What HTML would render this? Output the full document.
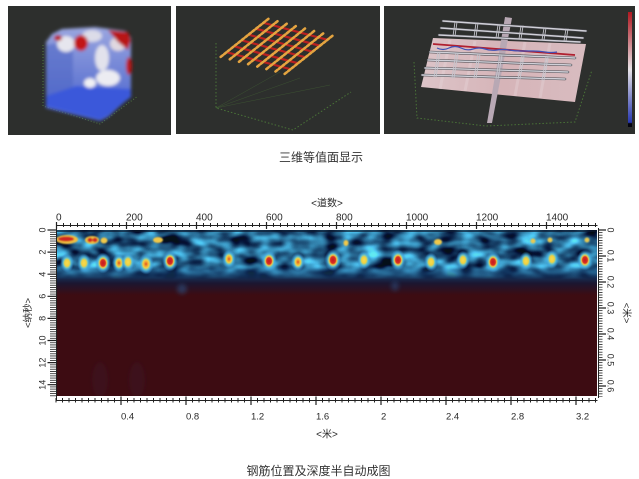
<!DOCTYPE html>
<html><head><meta charset="utf-8">
<style>
html,body{margin:0;padding:0;background:#fff;}
body{width:639px;height:479px;overflow:hidden;}
svg{display:block;}
text{font-family:"Liberation Sans","Noto Sans CJK SC",sans-serif;}
</style></head><body>
<svg width="639" height="479" viewBox="0 0 639 479" xmlns="http://www.w3.org/2000/svg">
<defs>
 <filter id="soft" x="-10%" y="-10%" width="120%" height="120%"><feGaussianBlur stdDeviation="0.9"/></filter>
 <filter id="soft2" x="-10%" y="-10%" width="120%" height="120%"><feGaussianBlur stdDeviation="1.6"/></filter>
 <filter id="blur2" x="-50%" y="-50%" width="200%" height="200%"><feGaussianBlur stdDeviation="2"/></filter>
 <filter id="tex" filterUnits="userSpaceOnUse" x="57" y="230" width="540" height="62" color-interpolation-filters="sRGB">
  <feTurbulence type="fractalNoise" baseFrequency="0.05 0.085" numOctaves="2" seed="11" result="n"/>
  <feColorMatrix in="n" type="matrix" values="0.75 0 0 0 -0.22  1.8 0 0 0 -0.5  1.9 0 0 0 -0.4  0 0 0 0 1"/>
 </filter>
 <linearGradient id="bandG" x1="0" y1="230" x2="0" y2="295" gradientUnits="userSpaceOnUse">
  <stop offset="0" stop-color="#0e2440"/>
  <stop offset="0.06" stop-color="#2470ac"/>
  <stop offset="0.58" stop-color="#2066a0"/>
  <stop offset="0.7" stop-color="#143660"/>
  <stop offset="0.82" stop-color="#1c1630"/>
  <stop offset="1" stop-color="#3d0c12"/>
 </linearGradient>
 <linearGradient id="fadeG" x1="0" y1="230" x2="0" y2="292" gradientUnits="userSpaceOnUse">
  <stop offset="0" stop-color="#fff"/>
  <stop offset="0.58" stop-color="#fff"/>
  <stop offset="0.8" stop-color="#000"/>
  <stop offset="1" stop-color="#000"/>
 </linearGradient>
 <mask id="fadeM" maskUnits="userSpaceOnUse" x="57" y="230" width="540" height="62">
  <rect x="57" y="230" width="540" height="62" fill="url(#fadeG)"/>
 </mask>
 <clipPath id="pc"><rect x="57" y="230" width="540" height="166"/></clipPath>
 <radialGradient id="gR">
  <stop offset="0" stop-color="#c41820"/>
  <stop offset="0.3" stop-color="#d83022"/>
  <stop offset="0.44" stop-color="#f0c440"/>
  <stop offset="0.56" stop-color="#80c8b0"/>
  <stop offset="0.7" stop-color="#48b0e0" stop-opacity="0.75"/>
  <stop offset="1" stop-color="#3a90d0" stop-opacity="0"/>
 </radialGradient>
 <radialGradient id="gO">
  <stop offset="0" stop-color="#e05020"/>
  <stop offset="0.2" stop-color="#f0a030"/>
  <stop offset="0.38" stop-color="#f2d044"/>
  <stop offset="0.52" stop-color="#80c8b0"/>
  <stop offset="0.68" stop-color="#48b0e0" stop-opacity="0.75"/>
  <stop offset="1" stop-color="#3a90d0" stop-opacity="0"/>
 </radialGradient>
 <radialGradient id="gY">
  <stop offset="0" stop-color="#f4dc50"/>
  <stop offset="0.34" stop-color="#f0d040"/>
  <stop offset="0.5" stop-color="#80c8b0"/>
  <stop offset="0.68" stop-color="#48b0e0" stop-opacity="0.75"/>
  <stop offset="1" stop-color="#3a90d0" stop-opacity="0"/>
 </radialGradient>
 <linearGradient id="cbar" x1="0" y1="0" x2="0" y2="1">
  <stop offset="0" stop-color="#b01820"/>
  <stop offset="0.5" stop-color="#e8e4e8"/>
  <stop offset="0.96" stop-color="#2838b0"/>
  <stop offset="0.97" stop-color="#050510"/>
  <stop offset="1" stop-color="#050510"/>
 </linearGradient>
 <linearGradient id="planeG" x1="0" y1="0" x2="1" y2="0">
  <stop offset="0" stop-color="#dcc4c8"/>
  <stop offset="0.5" stop-color="#d6b4b8"/>
  <stop offset="1" stop-color="#d8bcc0"/>
 </linearGradient>
 <linearGradient id="cubeG" x1="0" y1="0" x2="0" y2="1">
  <stop offset="0" stop-color="#9aa6e0"/>
  <stop offset="0.55" stop-color="#6a7ed4"/>
  <stop offset="1" stop-color="#4660d4"/>
 </linearGradient>
 <pattern id="ptop" patternUnits="userSpaceOnUse" x="56" y="0" width="7" height="10"><rect x="0" y="0" width="1" height="10" fill="#222"/></pattern>
 <pattern id="pbot" patternUnits="userSpaceOnUse" x="55.5" y="0" width="6.5" height="10"><rect x="0" y="0" width="1" height="10" fill="#222"/></pattern>
 <pattern id="pleft" patternUnits="userSpaceOnUse" x="0" y="229.6" width="10" height="2.21"><rect x="0" y="0" width="10" height="0.8" fill="#222"/></pattern>
 <pattern id="pright" patternUnits="userSpaceOnUse" x="0" y="229.6" width="10" height="2.6"><rect x="0" y="0" width="10" height="0.8" fill="#222"/></pattern>
</defs>

<rect width="639" height="479" fill="#fff"/>

<!-- Panel 1 -->
<rect x="8" y="6" width="163" height="129" fill="#2d2f2d"/>
<g stroke="#5a8a40" stroke-width="1" stroke-dasharray="1 2" fill="none" opacity=".8">
 <path d="M43 45 V106 L100 124 L138 96"/>
</g>
<g filter="url(#soft2)">
 <polygon points="46,42 52,34 62,29 95,27 125,31 131,38 131,96 108,117 100,121 46,108" fill="url(#cubeG)"/>
 <polygon points="46,45 73,40 73,92 46,100" fill="#5068c4" opacity=".6"/>
 <polygon points="46,96 76,86 131,89 131,97 108,115 100,119 46,106" fill="#3a58da"/>
 <ellipse cx="66" cy="44" rx="9" ry="8" fill="#e6e6ee"/>
 <ellipse cx="92" cy="36" rx="10" ry="6" fill="#dcdce8"/>
 <ellipse cx="102" cy="58" rx="7" ry="13" fill="#e2e2ec"/>
 <ellipse cx="108" cy="78" rx="12" ry="8" fill="#ececf2"/>
 <ellipse cx="90" cy="83" rx="6" ry="5" fill="#f0f0f4"/>
 <ellipse cx="118" cy="44" rx="8" ry="7" fill="#e0d8e0"/>
 <ellipse cx="81" cy="43" rx="7" ry="8" fill="#c21818"/>
 <ellipse cx="58" cy="38" rx="4" ry="3" fill="#b81818"/>
 <path d="M108 30 L128 32 L131 40 L128 50 L118 42 Z" fill="#b81818"/>
 <ellipse cx="129" cy="66" rx="3" ry="9" fill="#b81818"/>
</g>

<!-- Panel 2 -->
<rect x="176" y="6" width="204" height="128" fill="#2d2f2d"/>
<g stroke="#4f7f3a" stroke-width="1" fill="none" opacity=".85">
 <path d="M216 43 V108 L293 130 L351 92" stroke-dasharray="1.5 2"/>
 <path d="M216 108 L300 78 M216 108 L330 85 M216 108 L280 72" stroke-width=".5" opacity=".5"/>
</g>
<g stroke="#b82020" stroke-width="2.2" stroke-linecap="round">
 <line x1="226.5" y1="52.2" x2="290.5" y2="69.2"/>
 <line x1="234" y1="46.25" x2="298" y2="63.25"/>
 <line x1="241.5" y1="40.3" x2="305.5" y2="57.3"/>
 <line x1="248.5" y1="34.7" x2="312.5" y2="51.7"/>
 <line x1="256" y1="28.75" x2="320" y2="45.75"/>
 <line x1="263.5" y1="22.8" x2="327.5" y2="39.8"/>
</g>
<g stroke="#e4a440" stroke-width="2.6" stroke-linecap="round" stroke-dasharray="2.5 2">
 <line x1="220.7" y1="56.9" x2="269.3" y2="18.1"/>
 <line x1="229.8" y1="59.3" x2="278.4" y2="20.5"/>
 <line x1="239.0" y1="61.8" x2="287.6" y2="23.0"/>
 <line x1="248.1" y1="64.2" x2="296.7" y2="25.4"/>
 <line x1="257.3" y1="66.6" x2="305.9" y2="27.8"/>
 <line x1="266.4" y1="69.1" x2="315.0" y2="30.3"/>
 <line x1="275.5" y1="71.5" x2="324.1" y2="32.7"/>
 <line x1="284.7" y1="73.9" x2="333.3" y2="35.1"/>
</g>

<!-- Panel 3 -->
<rect x="384" y="6" width="251" height="128" fill="#2d2f2d"/>
<g stroke="#4f7f3a" stroke-width="1" fill="none" stroke-dasharray="1.5 2" opacity=".85">
 <path d="M414 62 L417 118 L486 126 L575 122 L592 70"/>
</g>
<polygon points="433,38 586,44 575,102 421,87" fill="url(#planeG)"/>
<g stroke="#e8d8dc" stroke-width="3" opacity=".35">
 <line x1="450" y1="40" x2="440" y2="89"/><line x1="475" y1="41" x2="465" y2="91"/>
 <line x1="525" y1="42" x2="515" y2="96"/><line x1="550" y1="43" x2="540" y2="98"/>
</g>
<polygon points="505,17 512,18 492,123 487,123" fill="#b8a8b4"/>
<g stroke-linecap="round">
 <g stroke="#4a4a50" stroke-width="2.6">
  <line x1="443" y1="21" x2="586" y2="31"/><line x1="441" y1="28" x2="583" y2="38"/><line x1="439" y1="35" x2="580" y2="42"/>
 </g>
 <g stroke="#d0d0d8" stroke-width="1.4">
  <line x1="443" y1="21" x2="586" y2="31"/><line x1="441" y1="28" x2="583" y2="38"/><line x1="439" y1="35" x2="580" y2="42"/>
 </g>
 <g stroke="#c0c0c8" stroke-width="0.9">
  <path d="M455 22 L453 36 M457 22 L455 36 M476 23 L474 37 M478 23 L476 37 M498 25 L496 38 M500 25 L498 38 M521 26 L519 39 M523 26 L521 39 M544 28 L542 40 M546 28 L544 40 M566 29 L564 41 M568 29 L566 41"/>
 </g>
</g>
<line x1="433" y1="44" x2="575" y2="55" stroke="#b02030" stroke-width="1.8"/>
<path d="M437 48 q6 3 12 0 t12 0 t12 1 t12 0 t12 1 t12 0 t12 1 t12 0 t12 1 t12 0" stroke="#4050b8" stroke-width="1.2" fill="none"/>
<g stroke-linecap="round">
 <g stroke="#4a4a50" stroke-width="2.6">
  <line x1="430" y1="52" x2="575" y2="58"/><line x1="428" y1="60" x2="571" y2="65"/><line x1="425" y1="68" x2="568" y2="72"/><line x1="422" y1="75" x2="565" y2="79"/>
 </g>
 <g stroke="#d0d0d8" stroke-width="1.4">
  <line x1="430" y1="52" x2="575" y2="58"/><line x1="428" y1="60" x2="571" y2="65"/><line x1="425" y1="68" x2="568" y2="72"/><line x1="422" y1="75" x2="565" y2="79"/>
 </g>
 <g stroke="#c4c4cc" stroke-width="0.9">
  <path d="M438 52 L434 77 M440 52 L436 77 M456 53 L452 78 M458 53 L454 78 M478 54 L474 78 M480 54 L476 78 M500 55 L496 79 M502 55 L498 79 M522 56 L518 79 M524 56 L520 79 M546 57 L542 80 M548 57 L544 80"/>
 </g>
</g>
<rect x="628" y="12" width="4" height="115" fill="url(#cbar)"/>

<text x="321" y="161.5" font-size="12" fill="#333" text-anchor="middle">三维等值面显示</text>

<!-- Heatmap -->
<g clip-path="url(#pc)">
 <rect x="57" y="230" width="540" height="166" fill="#3d0c12"/>
 <rect x="57" y="230" width="540" height="65" fill="url(#bandG)"/>
 <rect x="57" y="230" width="540" height="62" filter="url(#tex)" mask="url(#fadeM)" opacity="0.85"/>
 <rect x="57" y="230" width="540" height="2" fill="#0c1a30" opacity=".7"/>
 <g filter="url(#blur2)">
  <ellipse cx="182" cy="289" rx="5" ry="5" fill="#2a5a90" opacity=".5"/>
  <ellipse cx="395" cy="286" rx="4" ry="5" fill="#2a4f80" opacity=".5"/>
  <ellipse cx="100" cy="380" rx="8" ry="18" fill="#3a2040" opacity=".18"/>
  <ellipse cx="137" cy="380" rx="8" ry="18" fill="#3a2040" opacity=".18"/>
 </g>
 <g filter="url(#soft)">
  <ellipse cx="67" cy="239.5" rx="11" ry="4.5" fill="#f0c040"/>
  <ellipse cx="66" cy="239" rx="8" ry="2.5" fill="#d02820"/>
  <ellipse cx="92" cy="240" rx="7" ry="4" fill="#f0c040"/>
  <ellipse cx="90" cy="240" rx="2.5" ry="2.2" fill="#d02820"/>
  <ellipse cx="95" cy="240" rx="2.5" ry="2.2" fill="#d02820"/>
  <ellipse cx="104" cy="240.5" rx="3.5" ry="3" fill="#f0c848"/>
  <ellipse cx="158" cy="240" rx="5" ry="3" fill="#f0c848"/>
  <ellipse cx="346" cy="243" rx="2.5" ry="3" fill="#f0c848"/>
  <ellipse cx="438" cy="242" rx="4" ry="3" fill="#f0c848"/>
  <ellipse cx="533" cy="241" rx="2.5" ry="2.5" fill="#e8c850"/>
  <ellipse cx="550" cy="240" rx="2.5" ry="2.5" fill="#e8c850"/>
  <ellipse cx="587" cy="240" rx="2.5" ry="2.5" fill="#e8c850"/>
 </g>
 <ellipse cx="67" cy="263" rx="7" ry="9.5" fill="url(#gY)"/>
 <ellipse cx="84" cy="263" rx="7" ry="9.5" fill="url(#gY)"/>
 <ellipse cx="103" cy="263" rx="8" ry="10.5" fill="url(#gR)"/>
 <ellipse cx="119" cy="263" rx="7" ry="9.5" fill="url(#gO)"/>
 <ellipse cx="128" cy="262" rx="7" ry="9.5" fill="url(#gY)"/>
 <ellipse cx="146" cy="264" rx="8" ry="10.5" fill="url(#gO)"/>
 <ellipse cx="170" cy="261" rx="8" ry="10.5" fill="url(#gR)"/>
 <ellipse cx="229" cy="259" rx="7" ry="9.5" fill="url(#gO)"/>
 <ellipse cx="269" cy="261" rx="8" ry="10.5" fill="url(#gR)"/>
 <ellipse cx="298" cy="262" rx="7" ry="9.5" fill="url(#gO)"/>
 <ellipse cx="333" cy="260" rx="8.5" ry="11" fill="url(#gR)"/>
 <ellipse cx="364" cy="260" rx="7" ry="9.5" fill="url(#gY)"/>
 <ellipse cx="398" cy="260" rx="8" ry="10.5" fill="url(#gR)"/>
 <ellipse cx="431" cy="262" rx="7" ry="9.5" fill="url(#gY)"/>
 <ellipse cx="463" cy="260" rx="7" ry="9.5" fill="url(#gY)"/>
 <ellipse cx="493" cy="262" rx="8" ry="10.5" fill="url(#gR)"/>
 <ellipse cx="526" cy="261" rx="7" ry="9.5" fill="url(#gY)"/>
 <ellipse cx="552" cy="259" rx="7" ry="9.5" fill="url(#gY)"/>
 <ellipse cx="585" cy="260" rx="8" ry="10.5" fill="url(#gR)"/>
</g>

<g stroke="#222" stroke-width="1" fill="none">
 <path d="M56.5 230 V225.5 H597.5"/>
 <path d="M56.5 225 V400.5 H597.5"/>
 <path d="M598.5 228 V398"/>
</g>
<rect x="56" y="223" width="541" height="4" fill="url(#ptop)"/>
<rect x="55.5" y="398" width="542" height="4.5" fill="url(#pbot)"/>
<rect x="50" y="229.6" width="6.5" height="167" fill="url(#pleft)"/>
<rect x="598.5" y="229.6" width="4" height="167" fill="url(#pright)"/>
<g stroke="#222" stroke-width="1.2">
 <path d="M56.5 222V229 M126.5 222V229 M196.5 222V229 M266.5 222V229 M336.5 222V229 M406.5 222V229 M476.5 222V229 M546.5 222V229"/>
 <path d="M121 396.5V405 M186 396.5V405 M251 396.5V405 M316 396.5V405 M381 396.5V405 M446 396.5V405 M511 396.5V405 M576 396.5V405"/>
 <path d="M47.5 230H57 M47.5 252.1H57 M47.5 274.2H57 M47.5 296.3H57 M47.5 318.4H57 M47.5 340.5H57 M47.5 362.6H57 M47.5 384.7H57"/>
 <path d="M598 230H606 M598 256H606 M598 282H606 M598 308H606 M598 334H606 M598 360H606 M598 386H606"/>
</g>

<g font-size="10" fill="#2a2a2a">
 <text x="56" y="220.5">0</text>
 <text x="126" y="220.5">200</text>
 <text x="196" y="220.5">400</text>
 <text x="266" y="220.5">600</text>
 <text x="336" y="220.5">800</text>
 <text x="406" y="220.5">1000</text>
 <text x="476" y="220.5">1200</text>
 <text x="546" y="220.5">1400</text>
</g>
<g font-size="9.5" fill="#2a2a2a">
 <text x="121" y="419.5">0.4</text>
 <text x="186" y="419.5">0.8</text>
 <text x="251" y="419.5">1.2</text>
 <text x="316" y="419.5">1.6</text>
 <text x="381" y="419.5">2</text>
 <text x="446" y="419.5">2.4</text>
 <text x="511" y="419.5">2.8</text>
 <text x="576" y="419.5">3.2</text>
</g>
<g font-size="9" fill="#2a2a2a" text-anchor="middle">
 <text transform="translate(45.5,230) rotate(-90)">0</text>
 <text transform="translate(45.5,252.1) rotate(-90)">2</text>
 <text transform="translate(45.5,274.2) rotate(-90)">4</text>
 <text transform="translate(45.5,296.3) rotate(-90)">6</text>
 <text transform="translate(45.5,318.4) rotate(-90)">8</text>
 <text transform="translate(45.5,340.5) rotate(-90)">10</text>
 <text transform="translate(45.5,362.6) rotate(-90)">12</text>
 <text transform="translate(45.5,384.7) rotate(-90)">14</text>
 <text transform="translate(607.5,230) rotate(90)">0</text>
 <text transform="translate(607.5,256) rotate(90)">0.1</text>
 <text transform="translate(607.5,282) rotate(90)">0.2</text>
 <text transform="translate(607.5,308) rotate(90)">0.3</text>
 <text transform="translate(607.5,334) rotate(90)">0.4</text>
 <text transform="translate(607.5,360) rotate(90)">0.5</text>
 <text transform="translate(607.5,386) rotate(90)">0.6</text>
</g>
<g fill="#2a2a2a" text-anchor="middle">
 <text x="327" y="206.5" font-size="10">&lt;道数&gt;</text>
 <text x="327" y="437.5" font-size="10">&lt;米&gt;</text>
 <text transform="translate(31,313) rotate(-90)" font-size="9.5">&lt;纳秒&gt;</text>
 <text transform="translate(623.5,313) rotate(90)" font-size="9.5">&lt;米&gt;</text>
</g>

<text x="318.5" y="475" font-size="12" fill="#333" text-anchor="middle">钢筋位置及深度半自动成图</text>
</svg>
</body></html>
